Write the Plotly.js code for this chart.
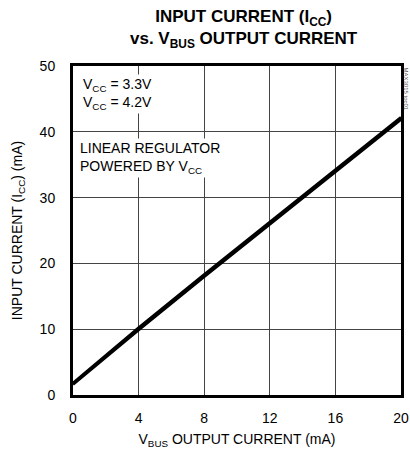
<!DOCTYPE html>
<html>
<head>
<meta charset="utf-8">
<script src="https://cdn.plot.ly/plotly-3.0.1.min.js"></script>
<style>html,body{margin:0;padding:0;background:#fff;}#chart{width:410px;height:458px;}</style>
</head>
<body>
<div id="chart"></div>
<script>
const outputCurrent = [0, 4, 8, 12, 16, 20];
const icc33 = [1.6, 9.9, 18.0, 26.0, 34.0, 41.9];
const icc42 = [1.8, 10.2, 18.3, 26.3, 34.3, 42.2];
const xTicks = [0, 4, 8, 12, 16, 20];
const yTicks = [0, 10, 20, 30, 40, 50];

const FONT = '"Liberation Sans", Arial, sans-serif';

const traces = [
  {x: outputCurrent, y: icc33, mode: 'lines', name: 'VCC = 3.3V', line: {color: '#000', width: 3}},
  {x: outputCurrent, y: icc42, mode: 'lines', name: 'VCC = 4.2V', line: {color: '#000', width: 3}}
];

const layout = {
  width: 410, height: 458,
  margin: {l: 73, r: 9, t: 66, b: 63},
  paper_bgcolor: '#fff', plot_bgcolor: '#fff',
  showlegend: false,
  font: {family: FONT, size: 14, color: '#000'},
  xaxis: {
    range: [0, 20], tickvals: xTicks, ticktext: xTicks.map(String),
    showgrid: true, gridcolor: '#444', gridwidth: 1,
    zeroline: false, showline: true, linecolor: '#000', linewidth: 3, mirror: true,
    ticks: '', ticklabelstandoff: 8,
    tickfont: {family: FONT, size: 14},
    title: {text: 'V<sub>BUS</sub> OUTPUT CURRENT (mA)', font: {family: FONT, size: 14}, standoff: 10}
  },
  yaxis: {
    range: [0, 50], tickvals: yTicks, ticktext: yTicks.map(String),
    showgrid: true, gridcolor: '#444', gridwidth: 1,
    zeroline: false, showline: true, linecolor: '#000', linewidth: 3, mirror: true,
    ticks: '', ticklabelstandoff: 12,
    tickfont: {family: FONT, size: 14},
    title: {text: 'INPUT CURRENT (I<sub>CC</sub>) (mA)', font: {family: FONT, size: 14}, standoff: 14}
  },
  annotations: [
    {xref: 'paper', yref: 'paper', x: 0.52, y: 1.04, xanchor: 'center', yanchor: 'bottom', align: 'center',
     text: '<b>INPUT CURRENT (I<sub>CC</sub>)<br>vs. V<sub>BUS</sub> OUTPUT CURRENT</b>', showarrow: false,
     font: {family: FONT, size: 17, color: '#000'}},
    {xref: 'paper', yref: 'paper', x: 0.025, y: 0.975, xanchor: 'left', yanchor: 'top', align: 'left',
     text: 'V<sub>CC</sub> = 3.3V<br>V<sub>CC</sub> = 4.2V', showarrow: false, bgcolor: '#fff',
     font: {family: FONT, size: 14}},
    {xref: 'paper', yref: 'paper', x: 0.015, y: 0.78, xanchor: 'left', yanchor: 'top', align: 'left',
     text: 'LINEAR REGULATOR<br>POWERED BY V<sub>CC</sub>', showarrow: false, bgcolor: '#fff',
     font: {family: FONT, size: 14}},
    {xref: 'paper', yref: 'paper', x: 1.003, y: 1.0, xanchor: 'left', yanchor: 'top',
     text: 'MAX3015 toc01', showarrow: false, textangle: 90,
     font: {family: FONT, size: 6, color: '#555'}}
  ]
};

Plotly.newPlot('chart', traces, layout, {staticPlot: true, displayModeBar: false});
</script>
</body>
</html>
